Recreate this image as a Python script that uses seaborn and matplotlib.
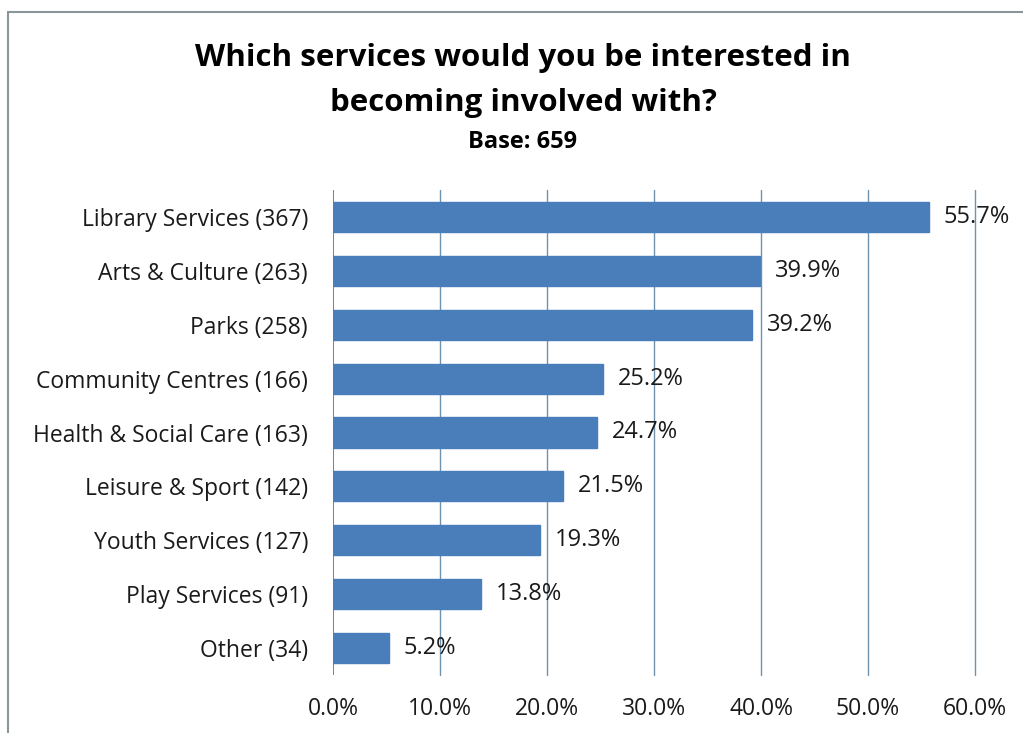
import matplotlib
matplotlib.use("Agg")
import matplotlib.pyplot as plt
import matplotlib.patches as mpatches
import seaborn as sns
import pandas as pd

categories = ["Library Services (367)", "Arts & Culture (263)", "Parks (258)",
              "Community Centres (166)", "Health & Social Care (163)",
              "Leisure & Sport (142)", "Youth Services (127)",
              "Play Services (91)", "Other (34)"]
percent = [55.7, 39.9, 39.2, 25.2, 24.7, 21.5, 19.3, 13.8, 5.2]
x_ticks = [0, 10, 20, 30, 40, 50, 60]

df = pd.DataFrame({"service": categories, "pct": percent})

sns.set_theme(style="white")
plt.rcParams['font.family'] = ['Open Sans', 'DejaVu Sans']

W, H = 1023, 733
fig = plt.figure(figsize=(W / 100, H / 100), dpi=100)
# plot area in pixels: x 333..975 (0..60%), y 190..675
ax = fig.add_axes([333 / W, 1 - 675 / H, (975 - 333) / W, (675 - 190) / H])

sns.barplot(data=df, y="service", x="pct", color="#4A7EBB", width=0.56,
            saturation=1, ax=ax, zorder=3, edgecolor="#4A7EBB")

ax.set_xlim(0, 60)
ax.set_ylim(len(categories) - 0.5, -0.5)
ax.set_xticks(x_ticks)
ax.set_xticklabels([f"{t:.1f}%" for t in x_ticks], fontsize=16.5, color="#1a1a1a")
ax.tick_params(axis="x", pad=16, length=0)
ax.tick_params(axis="y", pad=18, length=0, labelsize=16.5, labelcolor="#1a1a1a")
ax.set_xlabel("")
ax.set_ylabel("")
for t in x_ticks[1:]:
    ax.axvline(t, color="#6F93AF", lw=1.0, zorder=1, clip_on=False)
ax.axvline(0, color="#4F7FA0", lw=1.3, zorder=4)
for s in ax.spines.values():
    s.set_visible(False)

for i, v in enumerate(percent):
    ax.text(v + 1.4, i, f"{v:.1f}%", va="center", ha="left", fontsize=17,
            color="#1a1a1a", zorder=5)

fig.text(523 / W, 1 - 58 / H, "Which services would you be interested in",
         ha="center", va="center", fontsize=22.5, fontweight="bold", color="black")
fig.text(523 / W, 1 - 103 / H, "becoming involved with?",
         ha="center", va="center", fontsize=22.5, fontweight="bold", color="black")
fig.text(523 / W, 1 - 142 / H, "Base: 659",
         ha="center", va="center", fontsize=17, fontweight="bold", color="black")

# chart frame (left and top edges visible)
fig.patches.append(mpatches.Rectangle((8 / W, -0.1), 1.2, 1 - 12 / H + 0.1,
                                      transform=fig.transFigure, fill=False,
                                      edgecolor="#8A9499", lw=1.5))

fig.savefig("out.png", dpi=100)
